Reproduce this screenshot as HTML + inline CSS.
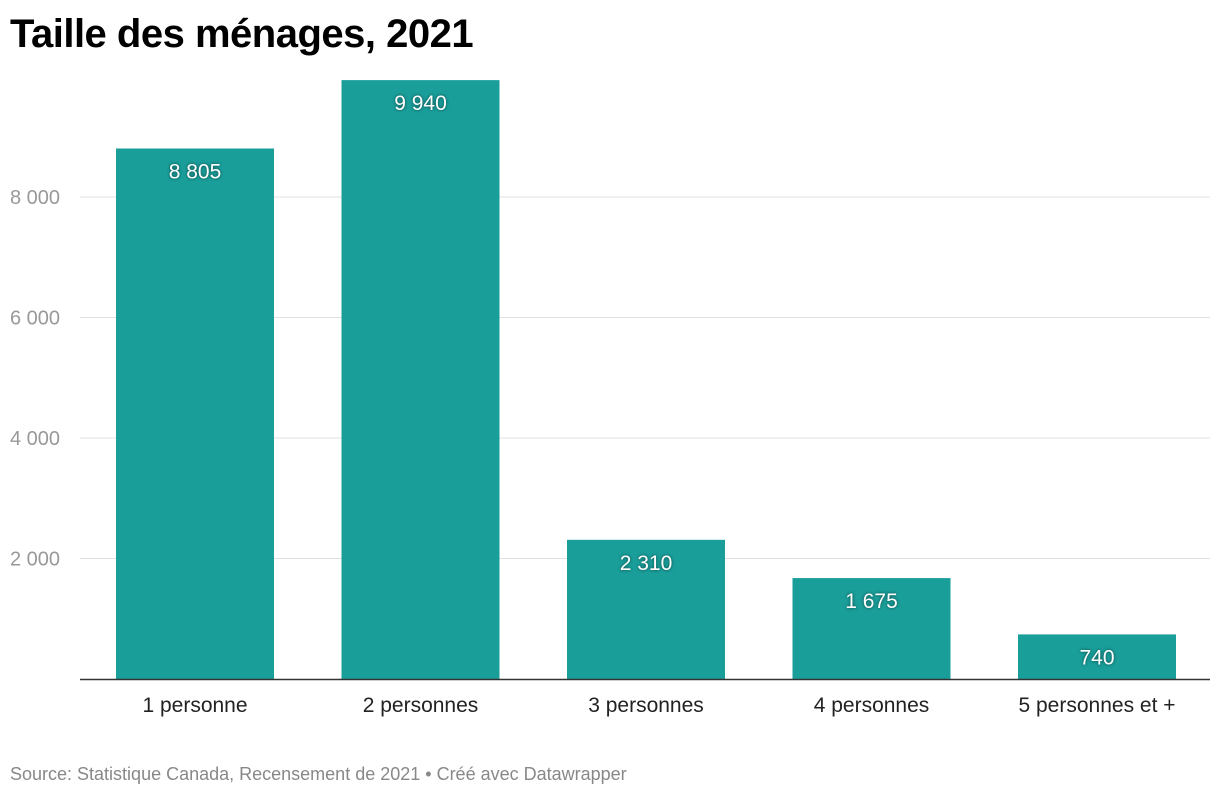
<!DOCTYPE html>
<html><head><meta charset="utf-8">
<style>
body{margin:0;background:#fff;font-family:"Liberation Sans",Arial,sans-serif;}
#wrap{position:relative;width:1220px;height:800px;overflow:hidden;}
h1{position:absolute;left:10px;top:12px;margin:0;font-size:40px;font-weight:bold;color:#000;letter-spacing:-0.5px;}
#src{position:absolute;left:10px;top:764px;font-size:18px;color:#888;}
svg text{font-family:"Liberation Sans",Arial,sans-serif;}
</style></head><body>
<div id="wrap">
<h1>Taille des ménages, 2021</h1>
<svg id="chart" width="1220" height="800" style="position:absolute;left:0;top:0"></svg>
<div id="src">Source: Statistique Canada, Recensement de 2021 • Créé avec Datawrapper</div>
</div>
<script>
const categories=["1 personne","2 personnes","3 personnes","4 personnes","5 personnes et +"];
const values=[8805,9940,2310,1675,740];
const valueLabels=["8 805","9 940","2 310","1 675","740"];
const ticks=[2000,4000,6000,8000];
const tickLabels=["2 000","4 000","6 000","8 000"];
const svg=document.getElementById('chart');
const NS='http://www.w3.org/2000/svg';
const y0=679, pxPer=120.5/2000;
const y=v=>y0-v*pxPer;
const left=80,right=1210,step=225.5,bw=158,firstCenter=195;
const xc=i=>firstCenter+i*step;
function mk(t,a){const e=document.createElementNS(NS,t);for(const k in a)e.setAttribute(k,a[k]);svg.appendChild(e);return e;}
ticks.forEach((t,i)=>{
 const g=mk('line',{x1:left,x2:right,y1:y(t),y2:y(t),stroke:'#e0e0e0','stroke-width':1});
 
 
 const tx=mk('text',{x:10,y:y(t)+7,'font-size':20,fill:'#999'});
 tx.textContent=tickLabels[i];
 
 
});
values.forEach((v,i)=>{
 const r=mk('rect',{x:xc(i)-bw/2,y:y(v),width:bw,height:y0-y(v),fill:'#1a9e9a'});
 
 
 const t=mk('text',{x:xc(i),y:y(v)+30,'font-size':21,fill:'#fff','text-anchor':'middle',style:'text-shadow:0 0 3px rgba(0,0,0,0.6)'});
 t.textContent=valueLabels[i];
 
 
 const c=mk('text',{x:xc(i),y:712,'font-size':21,fill:'#222','text-anchor':'middle'});
 c.textContent=categories[i];
 
 
});
const ax=mk('line',{x1:left,x2:right,y1:y0+0.5,y2:y0+0.5,stroke:'#333','stroke-width':1.5});


</script>
</body></html>
